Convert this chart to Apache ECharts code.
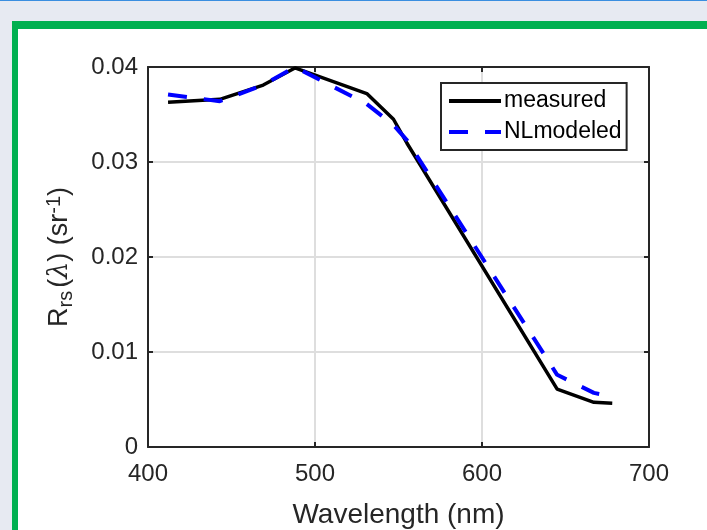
<!DOCTYPE html>
<html>
<head>
<meta charset="utf-8">
<script src="https://cdn.jsdelivr.net/npm/echarts@6/dist/echarts.min.js"></script>
<style>
  html, body { margin: 0; padding: 0; width: 707px; height: 530px; overflow: hidden; background: #e7eaf2; }
  #topline { position: absolute; left: 0; top: 0; width: 707px; height: 1px; background: #3a8ee0; }
  #frame { position: absolute; left: 12px; top: 21px; width: 695px; height: 509px; background: #00b050; }
  #inner { position: absolute; left: 18px; top: 29px; width: 689px; height: 501px; background: #ffffff; }
  #chart { position: absolute; left: 0; top: 0; width: 707px; height: 530px; }
</style>
</head>
<body>
<div id="topline"></div>
<div id="frame"></div>
<div id="inner"></div>
<div id="chart"></div>
<script>
// Wavelengths (nm)
const wavelengths = [412, 443, 469, 488, 531, 547, 555, 645, 667, 678];
// Measured Rrs (sr^-1)
const measured = [0.0363, 0.0366, 0.0381, 0.0399, 0.0372, 0.0345, 0.0320, 0.0061, 0.0047, 0.0046];
// NL modeled Rrs (sr^-1)
const nlModeled = [0.0371, 0.0364, 0.0381, 0.0400, 0.0361, 0.0339, 0.0323, 0.0076, 0.0057, 0.0053];
// Axis tick labels
const xTicks = [400, 500, 600, 700];
const yTicks = [0, 0.01, 0.02, 0.03, 0.04];

const FONT = 'Liberation Sans, Arial, Helvetica, sans-serif';
const AX = '#262626';

const chart = echarts.init(document.getElementById('chart'), null, { renderer: 'canvas' });
const pair = (xs, ys) => xs.map((x, i) => [x, ys[i]]);

const boxAxisX = (pos, showLabel) => ({
  type: 'value', position: pos, min: xTicks[0], max: xTicks[xTicks.length - 1], interval: 100,
  axisLine: { show: true, onZero: false, lineStyle: { color: AX, width: 2 } },
  axisTick: { show: true, inside: true, length: 5, lineStyle: { color: AX, width: 2 } },
  axisLabel: { show: showLabel, color: AX, fontSize: 24, fontFamily: FONT, margin: 15 },
  splitLine: { show: showLabel, lineStyle: { color: '#dedede', width: 2 } }
});
const boxAxisY = (pos, showLabel) => ({
  type: 'value', position: pos, min: yTicks[0], max: yTicks[yTicks.length - 1], interval: 0.01,
  axisLine: { show: true, onZero: false, lineStyle: { color: AX, width: 2 } },
  axisTick: { show: true, inside: true, length: 5, lineStyle: { color: AX, width: 2 } },
  axisLabel: { show: showLabel, color: AX, fontSize: 24, fontFamily: FONT, margin: 10,
               padding: [6, 0, 0, 0],
               formatter: v => (v === 0 ? '0' : v.toFixed(2)) },
  splitLine: { show: showLabel, lineStyle: { color: '#dedede', width: 2 } }
});

const xMain = boxAxisX('bottom', true);
xMain.name = 'Wavelength (nm)';
xMain.nameLocation = 'middle';
xMain.nameGap = 54;
xMain.nameTextStyle = { color: AX, fontSize: 28, fontFamily: FONT };

const yMain = boxAxisY('left', true);
yMain.name = '{r|R}{sub|rs}{n|(}{l|λ}{n|)}{n| (sr}{sup|-1}{n|)}';
yMain.nameLocation = 'middle';
yMain.nameRotate = 90;
yMain.nameGap = 72;
yMain.nameTextStyle = {
  color: AX, fontFamily: FONT, fontSize: 27,
  rich: {
    r: { fontSize: 27, color: AX, fontFamily: FONT, lineHeight: 32 },
    sub: { fontSize: 20, color: AX, fontFamily: FONT, lineHeight: 20, verticalAlign: 'bottom', padding: [0, 3, 0, 0] },
    n: { fontSize: 27, color: AX, fontFamily: FONT, lineHeight: 32 },
    l: { fontSize: 27, color: AX, fontFamily: 'DejaVu Serif, serif', fontStyle: 'italic', lineHeight: 32 },
    sup: { fontSize: 20, color: AX, fontFamily: FONT, lineHeight: 20, verticalAlign: 'top' }
  }
};

const option = {
  animation: false,
  backgroundColor: 'transparent',
  grid: { left: 148, right: 58, top: 67, bottom: 83, containLabel: false, outerBoundsMode: 'none' },
  xAxis: [xMain, boxAxisX('top', false)],
  yAxis: [yMain, boxAxisY('right', false)],
  legend: {
    orient: 'vertical', left: 441, top: 83,
    padding: [5, 5, 5, 6], itemGap: 5, itemWidth: 52, itemHeight: 14,
    borderColor: AX, borderWidth: 2, backgroundColor: '#ffffff',
    itemStyle: { color: 'transparent', borderColor: 'transparent', borderWidth: 0, opacity: 0 },
    lineStyle: { width: 4 },
    textStyle: { color: '#000', fontSize: 23, fontFamily: FONT, lineHeight: 26, padding: [0, 0, 0, -2] },
    data: ['measured', 'NLmodeled']
  },
  series: [
    {
      name: 'measured', type: 'line', data: pair(wavelengths, measured),
      symbol: 'none', showSymbol: false, z: 3,
      lineStyle: { color: '#000000', width: 3.5 }, itemStyle: { color: '#000000' }
    },
    {
      name: 'NLmodeled', type: 'line', data: pair(wavelengths, nlModeled),
      symbol: 'none', showSymbol: false, z: 4,
      lineStyle: { color: '#0000ff', width: 4, type: [19, 17] }, itemStyle: { color: '#0000ff' }
    }
  ]
};
chart.setOption(option);
</script>
</body>
</html>
